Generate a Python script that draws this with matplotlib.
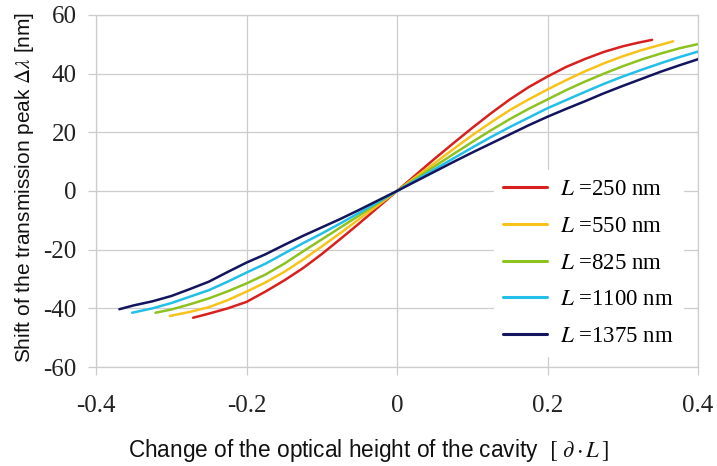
import matplotlib
matplotlib.use("Agg")
import matplotlib.pyplot as plt

# ---------------- data ----------------
x_250 = [-0.271, -0.25, -0.225, -0.2, -0.175, -0.15, -0.125, -0.1, -0.075, -0.05, -0.025, 0,
         0.025, 0.05, 0.075, 0.1, 0.125, 0.15, 0.175, 0.2, 0.225, 0.25, 0.275, 0.3, 0.32, 0.339]
y_250 = [-43.2, -41.8, -40.0, -37.8, -34.3, -30.5, -26.3, -21.5, -16.3, -11.0, -5.5, 0,
         5.5, 11.0, 16.3, 21.5, 26.5, 31.2, 35.4, 39.0, 42.3, 45.0, 47.4, 49.3, 50.5, 51.5]

x_550 = [-0.302, -0.275, -0.25, -0.225, -0.2, -0.175, -0.15, -0.125, -0.1, -0.075, -0.05, -0.025, 0,
         0.025, 0.05, 0.075, 0.1, 0.125, 0.15, 0.175, 0.2, 0.225, 0.25, 0.275, 0.3, 0.325, 0.35, 0.367]
y_550 = [-42.6, -41.2, -39.6, -37.2, -34.3, -31.2, -27.6, -23.4, -18.9, -14.3, -9.5, -4.8, 0,
         4.8, 9.5, 14.3, 19.0, 23.4, 27.6, 31.2, 34.6, 37.8, 40.8, 43.5, 45.9, 48.0, 49.8, 51.0]

x_825 = [-0.321, -0.3, -0.275, -0.25, -0.225, -0.2, -0.175, -0.15, -0.125, -0.1, -0.075, -0.05, -0.025, 0,
         0.025, 0.05, 0.075, 0.1, 0.125, 0.15, 0.175, 0.2, 0.225, 0.25, 0.275, 0.3, 0.325, 0.35, 0.375, 0.399]
y_825 = [-41.5, -40.4, -38.6, -36.6, -34.2, -31.5, -28.5, -24.8, -20.6, -16.5, -12.4, -8.3, -4.1, 0,
         4.2, 8.4, 12.6, 16.7, 20.7, 24.5, 28.0, 31.2, 34.4, 37.3, 40.0, 42.5, 44.8, 46.8, 48.6, 50.0]

x_1100 = [-0.352, -0.325, -0.3, -0.275, -0.25, -0.225, -0.2, -0.175, -0.15, -0.125, -0.1, -0.075, -0.05, -0.025, 0,
          0.025, 0.05, 0.075, 0.1, 0.125, 0.15, 0.175, 0.2, 0.225, 0.25, 0.275, 0.3, 0.325, 0.35, 0.375, 0.4]
y_1100 = [-41.5, -40.0, -38.2, -36.0, -33.8, -30.9, -27.8, -24.8, -21.3, -17.8, -14.5, -11.0, -7.4, -3.7, 0,
          3.7, 7.4, 11.1, 14.8, 18.4, 21.8, 25.0, 28.2, 31.0, 33.8, 36.5, 39.0, 41.3, 43.5, 45.6, 47.5]

x_1375 = [-0.369, -0.35, -0.325, -0.3, -0.275, -0.25, -0.225, -0.2, -0.175, -0.15, -0.125, -0.1, -0.075, -0.05, -0.025, 0,
          0.025, 0.05, 0.075, 0.1, 0.125, 0.15, 0.175, 0.2, 0.225, 0.25, 0.275, 0.3, 0.325, 0.35, 0.375, 0.4]
y_1375 = [-40.3, -39.0, -37.6, -35.8, -33.4, -30.9, -27.6, -24.4, -21.6, -18.4, -15.3, -12.4, -9.5, -6.4, -3.2, 0,
          3.3, 6.6, 9.9, 13.1, 16.2, 19.3, 22.4, 25.3, 28.0, 30.6, 33.3, 35.8, 38.2, 40.6, 42.8, 44.9]

series_labels = [r"$L$ =250 nm", r"$L$ =550 nm", r"$L$ =825 nm", r"$L$ =1100 nm", r"$L$ =1375 nm"]
series_colors = ["#d8201f", "#f7c31a", "#8dc21f", "#22bfe8", "#12145e"]

x_ticks = [-0.4, -0.2, 0, 0.2, 0.4]
x_ticklabels = ["-0.4", "-0.2", "0", "0.2", "0.4"]
y_ticks = [-60, -40, -20, 0, 20, 40, 60]
y_ticklabels = ["-60", "-40", "-20", "0", "20", "40", "60"]

x_label = r"Change of the optical height of the cavity  $[\ \partial\cdot L\,]$"
y_label = r"Shift of the transmission peak $\Delta\lambda$ [nm]"

# ---------------- plot ----------------
plt.rcParams["mathtext.fontset"] = "stix"

fig = plt.figure(figsize=(7.17, 4.66), dpi=100)
ax = fig.add_axes([0.134, 0.2124, 0.8395, 0.7556])

xs = [x_250, x_550, x_825, x_1100, x_1375]
ys = [y_250, y_550, y_825, y_1100, y_1375]
for xv, yv, lab, col in zip(xs, ys, series_labels, series_colors):
    ax.plot(xv, yv, color=col, lw=1.8, label=lab, solid_capstyle="round", zorder=3)

ax.set_xlim(-0.4, 0.4)
ax.set_ylim(-60, 60)
ax.set_xticks(x_ticks)
ax.set_xticklabels(x_ticklabels)
ax.set_yticks(y_ticks)
ax.set_yticklabels(y_ticklabels)

gcol = "#cccccc"
ax.grid(True, color=gcol, lw=0.9)
ax.set_axisbelow(True)
for s in ax.spines.values():
    s.set_color(gcol)
    s.set_linewidth(0.9)
ax.tick_params(axis="both", direction="out", length=6, width=0.9, color=gcol,
               labelsize=18, labelcolor="#222222")
ax.tick_params(axis="x", pad=14)
ax.tick_params(axis="y", pad=8)
for t in ax.get_xticklabels() + ax.get_yticklabels():
    t.set_fontfamily("Liberation Serif")

ax.set_xlabel(x_label, fontsize=16.3, family="Liberation Sans", color="#111111")
ax.xaxis.set_label_coords(0.453, -0.2)
ax.set_ylabel(y_label, fontsize=15, family="Liberation Sans", color="#111111")
ax.yaxis.set_label_coords(-0.1, 0.51)

leg = ax.legend(loc="lower right", bbox_to_anchor=(0.975, 0.03), frameon=True,
                prop={"family": "Liberation Serif", "size": 16.5},
                handlelength=1.95, labelspacing=0.69, borderaxespad=0.0,
                handletextpad=0.55, borderpad=0.4)
leg.get_frame().set_facecolor("white")
leg.get_frame().set_edgecolor("white")
leg.get_frame().set_alpha(1.0)
leg.get_frame().set_boxstyle("square", pad=0)
for h in leg.get_lines():
    h.set_linewidth(2.2)

fig.savefig("out.png", dpi=100)
